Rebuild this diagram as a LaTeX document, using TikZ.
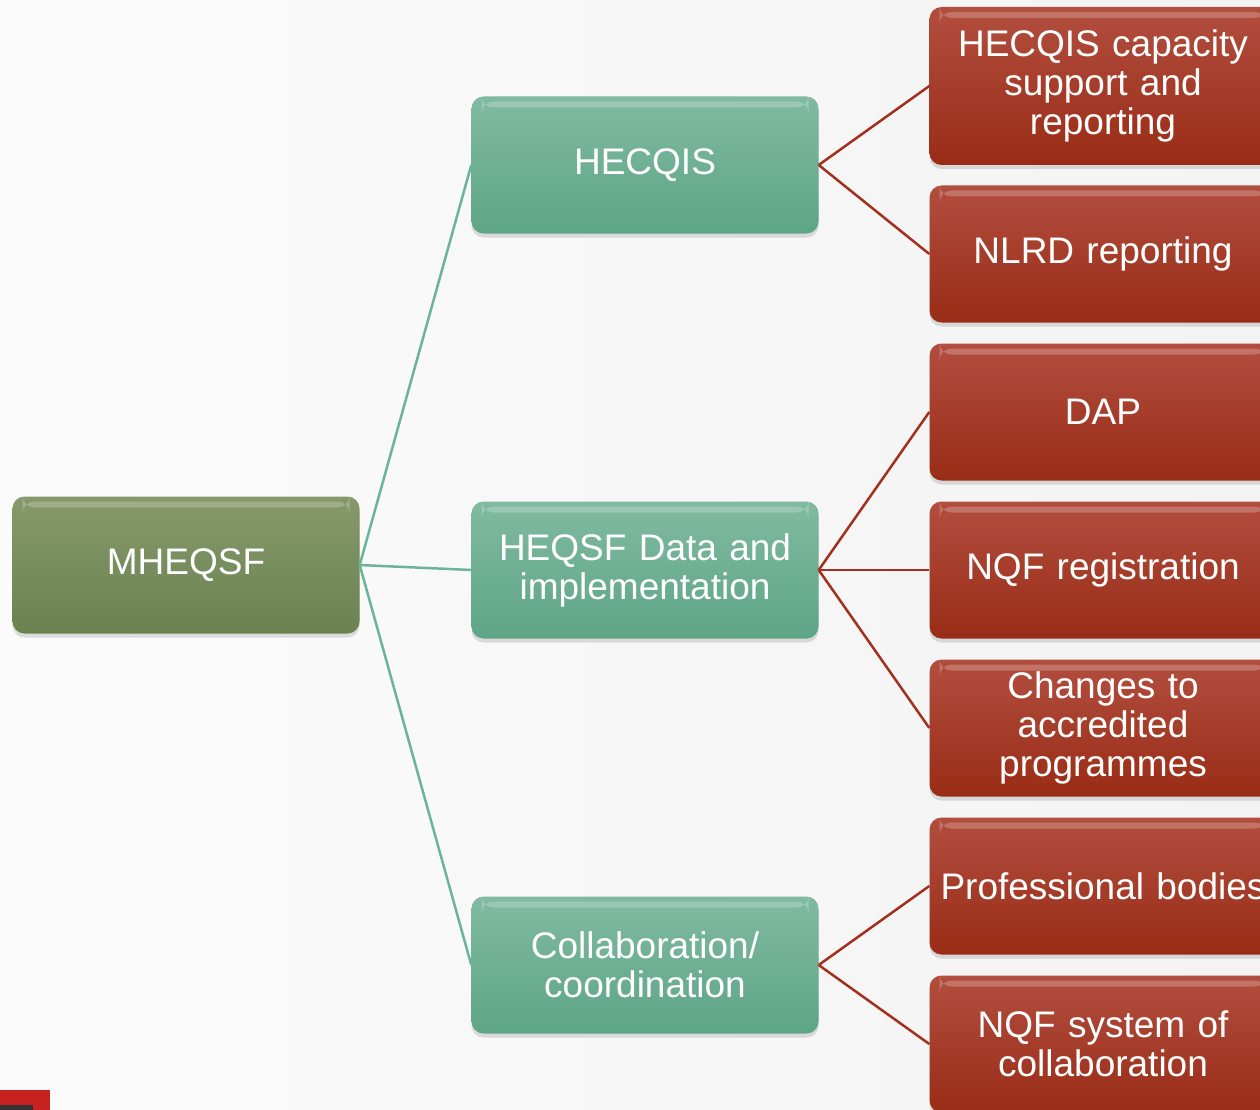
\documentclass[tikz,border=0pt]{standalone}
\usepackage{fontspec}
\setmainfont{Liberation Sans}
\usetikzlibrary{shadows}

\definecolor{olivetop}{HTML}{87996B}
\definecolor{olivebot}{HTML}{6A8250}
\definecolor{tealtop}{HTML}{80BAA1}
\definecolor{tealbot}{HTML}{5EA587}
\definecolor{rusttop}{HTML}{B24E3F}
\definecolor{rustbot}{HTML}{992C16}
\definecolor{tealline}{HTML}{6BB49B}
\definecolor{rustline}{HTML}{A3301C}
\definecolor{slidered}{HTML}{C6201F}
\definecolor{slidebg}{HTML}{F3F3F3}

\tikzset{
  box/.style={rectangle, rounded corners=12pt, minimum width=347pt, minimum height=137pt,
    inner sep=2pt, text width=343pt, align=center, text=white,
    font=\fontsize{37}{39}\selectfont,
    drop shadow={shadow xshift=0pt, shadow yshift=-4pt, opacity=0.25},
    path picture={\fill[white, opacity=0.22]
      ([xshift=10pt,yshift=-5pt]path picture bounding box.north west) rectangle
      ([xshift=-10pt,yshift=-11pt]path picture bounding box.north east);}},
  rootbox/.style={box, top color=olivetop, bottom color=olivebot},
  midbox/.style={box, top color=tealtop, bottom color=tealbot},
  leafbox/.style={box, top color=rusttop, bottom color=rustbot},
  midlink/.style={draw=tealline, line width=2.5pt},
  leaflink/.style={draw=rustline, line width=2.5pt},
}

\begin{document}
\begin{tikzpicture}[x=1pt,y=-1pt]
\path[use as bounding box] (0,0) rectangle (1260,1110);
\clip (0,0) rectangle (1260,1110);
\shade[left color=white!70!slidebg, right color=slidebg] (0,0) rectangle (1260,1110);

% left column
\node [rootbox] (root) at (186,565) {MHEQSF};

% middle column
\node [midbox] (hecqis) at (645,165) {HECQIS};
\node [midbox] (heqsf) at (645,570) {HEQSF Data and\\implementation};
\node [midbox] (collab) at (645,965) {Collaboration/\\coordination};

% right column
\node [leafbox, minimum height=158pt] (capacity) at (1103,86) {HECQIS capacity\\support and\\reporting};
\node [leafbox] (nlrd) at (1103,254) {NLRD reporting};
\node [leafbox] (dap) at (1103,412) {DAP};
\node [leafbox] (nqfreg) at (1103,570) {NQF registration};
\node [leafbox] (changes) at (1103,728) {Changes to\\accredited\\programmes};
\node [leafbox] (bodies) at (1103,886) {Professional bodies};
\node [leafbox] (nqfsys) at (1103,1044) {NQF system of\\collaboration};

% links
\draw [midlink] (root.east) -- (hecqis.west);
\draw [midlink] (root.east) -- (heqsf.west);
\draw [midlink] (root.east) -- (collab.west);
\draw [leaflink] (hecqis.east) -- (capacity.west);
\draw [leaflink] (hecqis.east) -- (nlrd.west);
\draw [leaflink] (heqsf.east) -- (dap.west);
\draw [leaflink] (heqsf.east) -- (nqfreg.west);
\draw [leaflink] (heqsf.east) -- (changes.west);
\draw [leaflink] (collab.east) -- (bodies.west);
\draw [leaflink] (collab.east) -- (nqfsys.west);

% slide corner mark
\fill [slidered] (0,1090) rectangle (50,1110);
\fill [black!80] (0,1105) rectangle (33,1110);
\end{tikzpicture}
\end{document}
